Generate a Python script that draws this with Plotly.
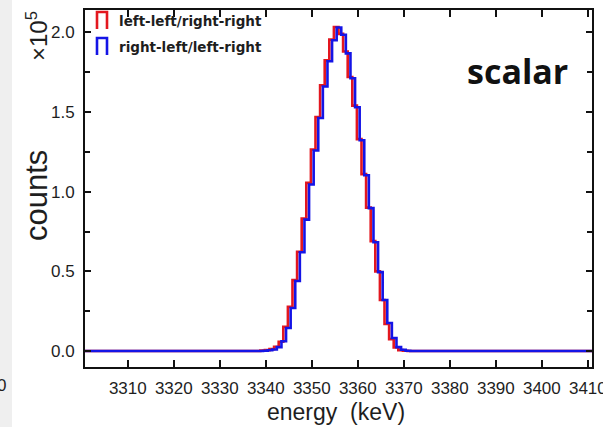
import numpy as np
import plotly.graph_objects as go

# ---------------- data (counts in units of 1e5) ----------------
bin_width = 1.0  # keV

red_first_edge = 3338.8
red_counts = [0.003, 0.006, 0.012, 0.027, 0.058, 0.152, 0.277, 0.445, 0.623, 0.832,
              1.055, 1.265, 1.469, 1.668, 1.824, 1.954, 2.033, 1.990, 1.880, 1.720,
              1.540, 1.330, 1.110, 0.900, 0.690, 0.500, 0.320, 0.170, 0.075, 0.022,
              0.006, 0.002]

blue_first_edge = 3339.4
blue_counts = [0.002, 0.005, 0.010, 0.025, 0.062, 0.145, 0.270, 0.440, 0.620, 0.825,
               1.045, 1.258, 1.462, 1.660, 1.818, 1.950, 2.030, 1.985, 1.868, 1.712,
               1.530, 1.323, 1.103, 0.897, 0.683, 0.495, 0.320, 0.176, 0.082, 0.025,
               0.008, 0.002]

energy_ticks = [3310, 3320, 3330, 3340, 3350, 3360, 3370, 3380, 3390, 3400, 3410]
energy_tick_labels = [str(v) for v in energy_ticks]
count_ticks = [0.0, 0.5, 1.0, 1.5, 2.0]
count_tick_labels = ["0.0", "0.5", "1.0", "1.5", "2.0"]

series_names = ["left-left/right-right", "right-left/left-right"]

x_range = [3300.7, 3410.9]
y_range = [-0.1, 2.14]

RED = "#e3171f"
BLUE = "#1414e6"
TXT = "#1e1e1e"


def step_xy(first_edge, counts):
    edges = first_edge + np.arange(len(counts) + 1) * bin_width
    x = [x_range[0] - 1] + list(edges) + [x_range[1] + 1]
    y = [0.0] + list(counts) + [0.0, 0.0]
    return x, y


fig = go.Figure()
for (first, cnts, col, name) in [(red_first_edge, red_counts, RED, series_names[0]),
                                 (blue_first_edge, blue_counts, BLUE, series_names[1])]:
    xs, ys = step_xy(first, cnts)
    fig.add_trace(go.Scatter(x=xs, y=ys, mode="lines", line=dict(color=col, width=2.6, shape="hv"),
                             name=name, showlegend=False, hoverinfo="skip"))

# ---------------- layout ----------------
L, R, T, B = 85, 11, 10, 60
W, H = 603, 427
pw, ph = W - L - R, H - T - B


def px(xp):
    return (xp - L) / pw


def py(yp):
    return (H - B - yp) / ph


font_main = "Liberation Sans, Arial, Helvetica, sans-serif"

fig.update_layout(
    width=W, height=H,
    margin=dict(l=L, r=R, t=T, b=B, autoexpand=False),
    paper_bgcolor="white", plot_bgcolor="white",
    font=dict(family=font_main, color=TXT),
    xaxis=dict(range=x_range, tickvals=energy_ticks, ticktext=energy_tick_labels,
               showgrid=False, zeroline=False, showline=True, linecolor="#111", linewidth=2,
               mirror="ticks", ticks="inside", ticklen=7, tickwidth=1.5, tickcolor="#111",
               tickfont=dict(size=17, color=TXT, family=font_main), ticklabelstandoff=5,
               ticklabeloverflow="allow"),
    yaxis=dict(range=y_range, tickvals=count_ticks, ticktext=count_tick_labels,
               showgrid=False, zeroline=False, showline=True, linecolor="#111", linewidth=2,
               mirror="ticks", ticks="inside", ticklen=6, tickwidth=1.5, tickcolor="#111",
               tickfont=dict(size=17, color=TXT, family=font_main), ticklabelstandoff=5,
               ticklabeloverflow="allow",
               minor=dict(dtick=0.25, ticks="inside", ticklen=5, tickwidth=1.5, tickcolor="#111",
                          showgrid=False)),
)

# gray strip on far left
fig.add_shape(type="rect", xref="paper", yref="paper", x0=px(-5), x1=px(12), y0=py(H + 5), y1=py(-5),
              fillcolor="#efefef", line=dict(width=0), layer="below")

ann = []
ann.append(dict(text="energy\u00a0\u00a0(keV)", x=px(336), y=py(412), xref="paper", yref="paper",
                showarrow=False, xanchor="center", yanchor="middle",
                font=dict(size=23, color=TXT, family=font_main)))
ann.append(dict(text="counts", x=px(37), y=py(196), xref="paper", yref="paper", textangle=-90,
                showarrow=False, xanchor="center", yanchor="middle",
                font=dict(size=31, color=TXT, family=font_main)))
ann.append(dict(text="×10<sup>5</sup>", x=px(37), y=py(36), xref="paper", yref="paper", textangle=-90,
                showarrow=False, xanchor="center", yanchor="middle",
                font=dict(size=24, color=TXT, family=font_main)))
ann.append(dict(text="<b>scalar</b>", x=px(517), y=py(71), xref="paper", yref="paper",
                showarrow=False, xanchor="center", yanchor="middle",
                font=dict(size=34, color="#111", family="Open Sans, sans-serif")))
ann.append(dict(text="0", x=px(1), y=py(385), xref="paper", yref="paper",
                showarrow=False, xanchor="center", yanchor="middle",
                font=dict(size=17, color=TXT, family=font_main)))

leg_font = dict(size=13.5, color=TXT, family="DejaVu Sans, sans-serif")
for i, (name, col, yc) in enumerate([(series_names[0], RED, 21), (series_names[1], BLUE, 47)]):
    ann.append(dict(text="<b>" + name + "</b>", x=px(117), y=py(yc), xref="paper", yref="paper",
                    showarrow=False, xanchor="left", yanchor="middle", font=leg_font))
    y0, y1 = py(yc + 8), py(yc - 9)
    x0, x1 = px(97), px(107)
    fig.add_shape(type="path", xref="paper", yref="paper",
                  path=f"M {x0},{y0} L {x0},{y1} L {x1},{y1} L {x1},{y0}",
                  line=dict(color=col, width=2.6))

fig.update_layout(annotations=ann)
fig.write_html("out.html", config={"displayModeBar": False},
               post_script="document.body.style.margin='0';document.body.style.overflow='hidden';")
